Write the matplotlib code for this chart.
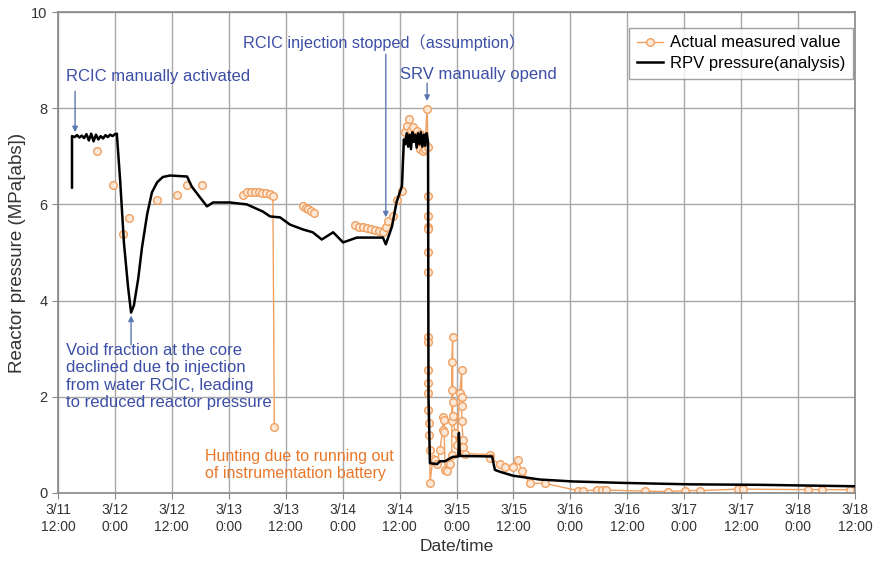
import numpy as np
import matplotlib
matplotlib.use("Agg")
import matplotlib.pyplot as plt

plt.rcParams["font.family"] = ["Liberation Sans", "Noto Sans CJK JP", "DejaVu Sans"]

nan = np.nan

# time axis: hours since 3/11 0:00
rpv_hours = [14.95, 14.95, 15.5, 16.0, 16.5, 17.0, 17.5, 18.0, 18.5, 19.0, 19.5, 20.0, 20.5,
             21.0, 21.5, 22.0, 22.5, 23.0, 23.5, 24.0, 24.4,
             25.1, 25.9, 26.75, 27.4, 28.0, 28.9, 29.7, 30.8, 31.8, 32.9, 34.1, 35.6,
             39.2, 40.2, 41.9, 43.4, 44.7, 48.2, 51.8, 55.2, 56.7, 58.8, 60.9, 63.6,
             65.7, 67.6, 70.0, 72.1, 75.0, 80.5, 81.1, 82.4, 83.4, 84.5, 84.9,
             85.2, 85.5, 85.8, 86.1, 86.4, 86.7, 87.0, 87.3, 87.6, 87.9, 88.2, 88.5,
             88.8, 89.1, 89.4, 89.7, 90.0, 90.1, 90.4, 91.9, 92.5, 93.6, 94.6, 95.2,
             96.4, 96.5, 96.7, 103.5, 104.1, 105.2, 107.9, 113.6, 120.5, 131.1,
             145.2, 159.9, 180.0]
rpv_mpa = [6.35, 7.42, 7.40, 7.44, 7.39, 7.43, 7.38, 7.46, 7.33, 7.47, 7.31, 7.45, 7.35,
           7.42, 7.37, 7.44, 7.40, 7.45, 7.42, 7.46, 7.47,
           6.50, 5.20, 4.30, 3.75, 3.90, 4.45, 5.10, 5.80, 6.25, 6.46, 6.57, 6.60,
           6.58, 6.37, 6.15, 5.96, 6.04, 6.04, 6.00, 5.85, 5.75, 5.73, 5.58, 5.48,
           5.42, 5.27, 5.42, 5.21, 5.31, 5.31, 5.17, 5.54, 6.06, 6.38, 7.35,
           7.25, 7.48, 7.20, 7.45, 7.15, 7.50, 7.30, 7.45, 7.18, 7.48, 7.25, 7.50,
           7.20, 7.45, 7.22, 7.48, 7.30, 2.00, 0.62, 0.60, 0.66, 0.66, 0.72, 0.75,
           0.76, 1.25, 0.77, 0.76, 0.48, 0.44, 0.36, 0.28, 0.24, 0.21,
           0.18, 0.17, 0.14]

# measured values, NaN breaks the connecting line
meas_hours = [20.2, nan, 23.5, nan, 25.6, nan, 27.0, nan, 32.9, nan, 37.0, nan,
              39.2, nan, 42.3, nan,
              51.0, 51.9, 52.7, 53.5, 54.3, 55.1, 55.9, 56.7, 57.3, 57.6, nan,
              63.6, 64.2, 64.8, 65.4, 65.9, nan,
              74.6, 75.4, 76.3, 77.1, 78.0, 78.8, 79.7, 80.5, 81.1, 81.5, 82.6, 83.4,
              84.5, 85.1, 85.6, 86.0, 86.4, 86.8, 87.7, 88.3, 88.3, 88.9, 89.3, 89.8,
              90.0, 90.0, 90.0, 90.0, 90.0, 90.0, 90.0, 90.0, 90.0, 90.0, 90.0, 90.0,
              90.0, 90.2, 90.2, 90.4, 90.4, 91.0, 91.5, 91.9, 92.5, 93.1, 93.1, 93.4,
              93.4, 93.6, 94.0, 94.6, 95.0, 95.0, 95.0, 95.0, 95.2, 95.2, 95.2, 95.7,
              96.1, 96.7, 97.1, 97.1, 97.1, 97.1, 97.4, 97.4, 97.8, 103.0, 103.0,
              105.2, 106.2, 107.9, 108.9, 109.8, 111.5, 114.6, 121.6, 122.6, 125.6,
              126.6, 127.5, 135.7, 140.6, 144.1, 147.3, 155.3, 156.4, 170.1, 173.0,
              178.9]
meas_mpa = [7.10, nan, 6.40, nan, 5.39, nan, 5.71, nan, 6.10, nan, 6.19, nan,
            6.40, nan, 6.40, nan,
            6.19, 6.25, 6.26, 6.26, 6.25, 6.24, 6.23, 6.21, 6.17, 1.38, nan,
            5.96, 5.93, 5.90, 5.86, 5.83, nan,
            5.58, 5.54, 5.52, 5.50, 5.48, 5.46, 5.44, 5.42, 5.52, 5.65, 5.75, 6.10,
            6.27, 7.50, 7.63, 7.77, 7.55, 7.60, 7.52, 7.46, 7.15, 7.10, 7.15, 7.98,
            7.20, 6.17, 5.75, 5.52, 5.48, 5.02, 4.60, 3.25, 3.13, 2.56, 2.29, 2.08,
            1.73, 1.45, 1.20, 0.90, 0.20, 0.70, 0.69, 0.60, 0.90, 1.31, 1.58, 1.52,
            1.27, 0.48, 0.45, 0.60, 0.80, 1.50, 2.15, 2.73, 3.25, 1.90, 1.60, 1.25,
            1.00, 2.08, 2.56, 2.00, 1.80, 1.50, 1.10, 0.96, 0.82, 0.80, 0.73,
            0.60, 0.55, 0.55, 0.69, 0.45, 0.20, 0.20, 0.05, 0.05, 0.06,
            0.06, 0.06, 0.04, 0.03, 0.05, 0.05, 0.08, 0.08, 0.07, 0.07,
            0.07]

tick_hours = list(range(12, 181, 12))
tick_days = ["3/11", "3/12", "3/12", "3/13", "3/13", "3/14", "3/14", "3/15",
             "3/15", "3/16", "3/16", "3/17", "3/17", "3/18", "3/18"]
tick_times = ["12:00", "0:00"] * 7 + ["12:00"]
tick_labels = [f"{d}\n{t}" for d, t in zip(tick_days, tick_times)]

BLUE = "#3c4ea6"
ARROW = "#5b78b0"
ORANGE = "#f0a060"
ORANGE_TXT = "#e8772a"

fig = plt.figure(figsize=(8.82, 5.66), dpi=100)
ax = fig.add_axes([58 / 882, 73 / 566, 797 / 882, 481 / 566])

ax.plot(meas_hours, meas_mpa, color=ORANGE, lw=1.0, marker="o", ms=5.5,
        mfc="#fde8d6", mec=ORANGE, mew=1.0, label="Actual measured value", zorder=2)
ax.plot(rpv_hours, rpv_mpa, color="black", lw=1.8, label="RPV pressure(analysis)", zorder=3)

ax.set_xlim(12, 180)
ax.set_ylim(0, 10)
ax.set_xticks(tick_hours)
ax.set_xticklabels(tick_labels, fontsize=10, color="#333333")
ax.set_yticks(range(0, 11, 2))
ax.tick_params(axis="y", labelsize=10.5, labelcolor="#333333")
ax.tick_params(length=4, color="#888888")
ax.grid(color="#a8a8a8", lw=1.0)
ax.set_axisbelow(True)
for s in ax.spines.values():
    s.set_color("#888888")
    s.set_linewidth(1.2)

ax.set_xlabel("Date/time", fontsize=12.5, color="#333333")
ax.set_ylabel("Reactor pressure (MPa[abs])", fontsize=13.5, color="#333333")

ax.legend(loc="upper right", bbox_to_anchor=(0.9975, 0.967), borderaxespad=0,
          fontsize=12, frameon=True, fancybox=False, edgecolor="#888888",
          borderpad=0.45, handlelength=1.6, handletextpad=0.4, labelspacing=0.35)

# annotations
arr = dict(arrowstyle="-|>", color=ARROW, lw=1.0, mutation_scale=8, shrinkA=0, shrinkB=0)
ax.text(13.7, 8.65, "RCIC manually activated", color=BLUE, fontsize=12, va="center")
ax.annotate("", xy=(15.6, 7.5), xytext=(15.6, 8.35), arrowprops=arr)

ax.text(51.0, 9.37, "RCIC injection stopped（assumption）", color=BLUE, fontsize=11.7,
        va="center")
ax.annotate("", xy=(81.1, 5.73), xytext=(81.1, 9.12), arrowprops=arr)

ax.text(84.1, 8.71, "SRV manually opend", color=BLUE, fontsize=12, va="center")
ax.annotate("", xy=(89.8, 8.15), xytext=(89.8, 8.52), arrowprops=arr)

ax.text(13.7, 3.12, "Void fraction at the core\ndeclined due to injection\n"
        "from water RCIC, leading\nto reduced reactor pressure",
        color=BLUE, fontsize=12, va="top", linespacing=1.2)
ax.annotate("", xy=(27.4, 3.69), xytext=(27.4, 3.08), arrowprops=arr)

ax.text(43.0, 0.92, "Hunting due to running out\nof instrumentation battery",
        color=ORANGE_TXT, fontsize=11.5, va="top", linespacing=1.15)

fig.savefig("out.png", dpi=100)
